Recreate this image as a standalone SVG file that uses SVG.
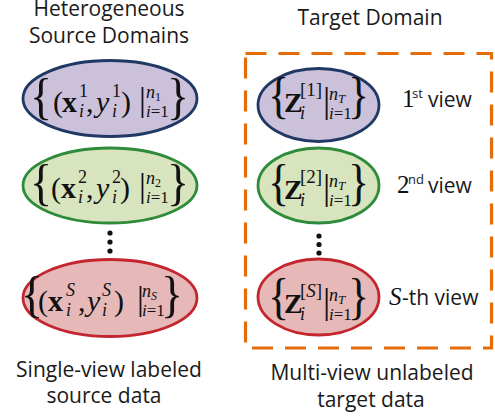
<svg xmlns="http://www.w3.org/2000/svg" width="495" height="419" viewBox="0 0 495 419">
<style>
.bg{fill:#ffffff}
.lbl{font-family:"Open Sans","Liberation Sans",sans-serif;font-size:21px;fill:#1a1a1a;text-anchor:middle}
.vw{font-family:"Open Sans","Liberation Sans",sans-serif;font-size:21px;fill:#1a1a1a}
.sup{font-family:"Open Sans","Liberation Sans",sans-serif;font-size:13px;fill:#1a1a1a}
.m{font-family:"Liberation Serif","Times New Roman",serif;fill:#111111}
.br{font-family:"Liberation Serif","Times New Roman",serif;fill:#111111;font-size:40px}
.mn{font-size:30px}
.bd{font-weight:bold}
.it{font-style:italic}
.s18{font-size:18px}
.s17{font-size:17px}
.s12{font-size:12px}
.s13{font-size:13px}
.pur{fill:#CCC1DA;stroke:#1F3864;stroke-width:2.8}
.grn{fill:#D7E4BD;stroke:#2E8B3A;stroke-width:2.8}
.red{fill:#E6B9B8;stroke:#C3262E;stroke-width:2.8}
.dot{fill:#111111}
.frame{fill:none;stroke:#E46C0A;stroke-width:3.2;stroke-dasharray:21 12}
</style>
<rect class="bg" x="0" y="0" width="495" height="419"/>

<g id="titles">
<text class="lbl" x="109" y="16">Heterogeneous</text>
<text class="lbl" x="109" y="43">Source Domains</text>
<text class="lbl" x="370" y="25">Target Domain</text>
<text class="lbl" x="109" y="377">Single-view labeled</text>
<text class="lbl" x="104" y="403">source data</text>
<text class="lbl" x="372" y="380">Multi-view unlabeled</text>
<text class="lbl" x="371" y="407">target data</text>
</g>

<g id="target-frame">
<rect class="frame" x="245.5" y="53.5" width="246" height="294.5"/>
</g>

<g id="source-1">
<ellipse class="pur" cx="110" cy="98.5" rx="87" ry="38"/>
<text class="br" transform="translate(30,113) scale(1.15,1.28)">{</text>
<text class="br" transform="translate(167,113) scale(1.15,1.28)">}</text>
<text class="m"><tspan class="mn" x="53" y="112">(</tspan><tspan class="mn bd" x="62" y="112">x</tspan><tspan class="s18" x="79" y="97">1</tspan><tspan class="s18 it" x="79" y="117">i</tspan><tspan class="mn" x="86" y="112">,</tspan><tspan class="mn it" x="96" y="112">y</tspan><tspan class="s18" x="112" y="97">1</tspan><tspan class="s18 it" x="112" y="117">i</tspan><tspan class="mn" x="121" y="112">)</tspan><tspan x="139" y="111" style="font-size:34px">|</tspan><tspan class="s18 it" x="146" y="98">n</tspan><tspan class="s12" x="155" y="101">1</tspan><tspan class="s17 it" x="146" y="117">i</tspan><tspan class="s17">=1</tspan></text>
</g>

<g id="source-2">
<ellipse class="grn" cx="110" cy="185.5" rx="87" ry="37.5"/>
<text class="br" transform="translate(30,199) scale(1.15,1.28)">{</text>
<text class="br" transform="translate(167,199) scale(1.15,1.28)">}</text>
<text class="m"><tspan class="mn" x="51" y="198">(</tspan><tspan class="mn bd" x="61" y="198">x</tspan><tspan class="s18" x="78" y="183">2</tspan><tspan class="s18 it" x="78" y="203">i</tspan><tspan class="mn" x="86" y="198">,</tspan><tspan class="mn it" x="96" y="198">y</tspan><tspan class="s18" x="112" y="183">2</tspan><tspan class="s18 it" x="112" y="203">i</tspan><tspan class="mn" x="120" y="198">)</tspan><tspan x="139" y="197" style="font-size:34px">|</tspan><tspan class="s18 it" x="146" y="184">n</tspan><tspan class="s12" x="155" y="187">2</tspan><tspan class="s17 it" x="146" y="203">i</tspan><tspan class="s17">=1</tspan></text>
</g>

<g id="source-dots">
<circle class="dot" cx="110" cy="233" r="2.6"/>
<circle class="dot" cx="110" cy="242" r="2.6"/>
<circle class="dot" cx="110" cy="251" r="2.6"/>
</g>

<g id="source-S">
<ellipse class="red" cx="110" cy="298" rx="87" ry="38.5"/>
<text class="br" transform="translate(21,311) scale(1.15,1.28)">{</text>
<text class="br" transform="translate(161,311) scale(1.15,1.28)">}</text>
<text class="m"><tspan class="mn" x="38" y="311">(</tspan><tspan class="mn bd" x="48" y="311">x</tspan><tspan class="s18 it" x="66" y="296">S</tspan><tspan class="s18 it" x="66" y="316">i</tspan><tspan class="mn" x="78" y="311">,</tspan><tspan class="mn it" x="87" y="311">y</tspan><tspan class="s18 it" x="102" y="296">S</tspan><tspan class="s18 it" x="102" y="316">i</tspan><tspan class="mn" x="114" y="311">)</tspan><tspan x="137" y="310" style="font-size:34px">|</tspan><tspan class="s18 it" x="142" y="297">n</tspan><tspan class="s12 it" x="151" y="300">S</tspan><tspan class="s17 it" x="142" y="316">i</tspan><tspan class="s17">=1</tspan></text>
</g>

<g id="target-1">
<ellipse class="pur" cx="318.5" cy="105" rx="60.5" ry="36.5"/>
<text class="br" transform="translate(268,112) scale(1.1,1.25)">{</text>
<text class="br" transform="translate(348,112) scale(1.1,1.25)">}</text>
<text class="m"><tspan class="mn bd" x="284" y="112" style="font-size:28px">Z</tspan><tspan x="300" y="96" style="font-size:19px">[1]</tspan><tspan class="s18 it" x="300" y="119">i</tspan><tspan x="323" y="112" style="font-size:36px">|</tspan><tspan class="s18 it" x="329" y="100">n</tspan><tspan class="s13 it" x="338" y="103">T</tspan><tspan class="s17 it" x="329" y="119">i</tspan><tspan class="s17">=1</tspan></text>
<text class="m" x="402" y="107" style="font-size:25px">1</text>
<text class="sup" x="412" y="98">st</text>
<text class="vw" x="428" y="107">view</text>
</g>

<g id="target-2">
<ellipse class="grn" cx="318.5" cy="185.5" rx="60.5" ry="37.5"/>
<text class="br" transform="translate(268,199) scale(1.1,1.25)">{</text>
<text class="br" transform="translate(348,199) scale(1.1,1.25)">}</text>
<text class="m"><tspan class="mn bd" x="284" y="199" style="font-size:28px">Z</tspan><tspan x="300" y="183" style="font-size:19px">[2]</tspan><tspan class="s18 it" x="300" y="206">i</tspan><tspan x="323" y="199" style="font-size:36px">|</tspan><tspan class="s18 it" x="329" y="187">n</tspan><tspan class="s13 it" x="338" y="190">T</tspan><tspan class="s17 it" x="329" y="206">i</tspan><tspan class="s17">=1</tspan></text>
<text class="m" x="397" y="193" style="font-size:25px">2</text>
<text class="sup" x="408" y="184">nd</text>
<text class="vw" x="428" y="193">view</text>
</g>

<g id="target-dots">
<circle class="dot" cx="319" cy="236" r="2.6"/>
<circle class="dot" cx="319" cy="244.5" r="2.6"/>
<circle class="dot" cx="319" cy="253" r="2.6"/>
</g>

<g id="target-S">
<ellipse class="red" cx="318.5" cy="297" rx="60.5" ry="38"/>
<text class="br" transform="translate(268,313) scale(1.1,1.25)">{</text>
<text class="br" transform="translate(348,313) scale(1.1,1.25)">}</text>
<text class="m"><tspan class="mn bd" x="284" y="313" style="font-size:28px">Z</tspan><tspan x="300" y="297" style="font-size:19px">[<tspan class="it">S</tspan>]</tspan><tspan class="s18 it" x="300" y="320">i</tspan><tspan x="323" y="313" style="font-size:36px">|</tspan><tspan class="s18 it" x="329" y="301">n</tspan><tspan class="s13 it" x="338" y="304">T</tspan><tspan class="s17 it" x="329" y="320">i</tspan><tspan class="s17">=1</tspan></text>
<text class="m it" x="389" y="305" style="font-size:25px">S</text>
<text class="vw" x="402" y="305">-th view</text>
</g>
</svg>
